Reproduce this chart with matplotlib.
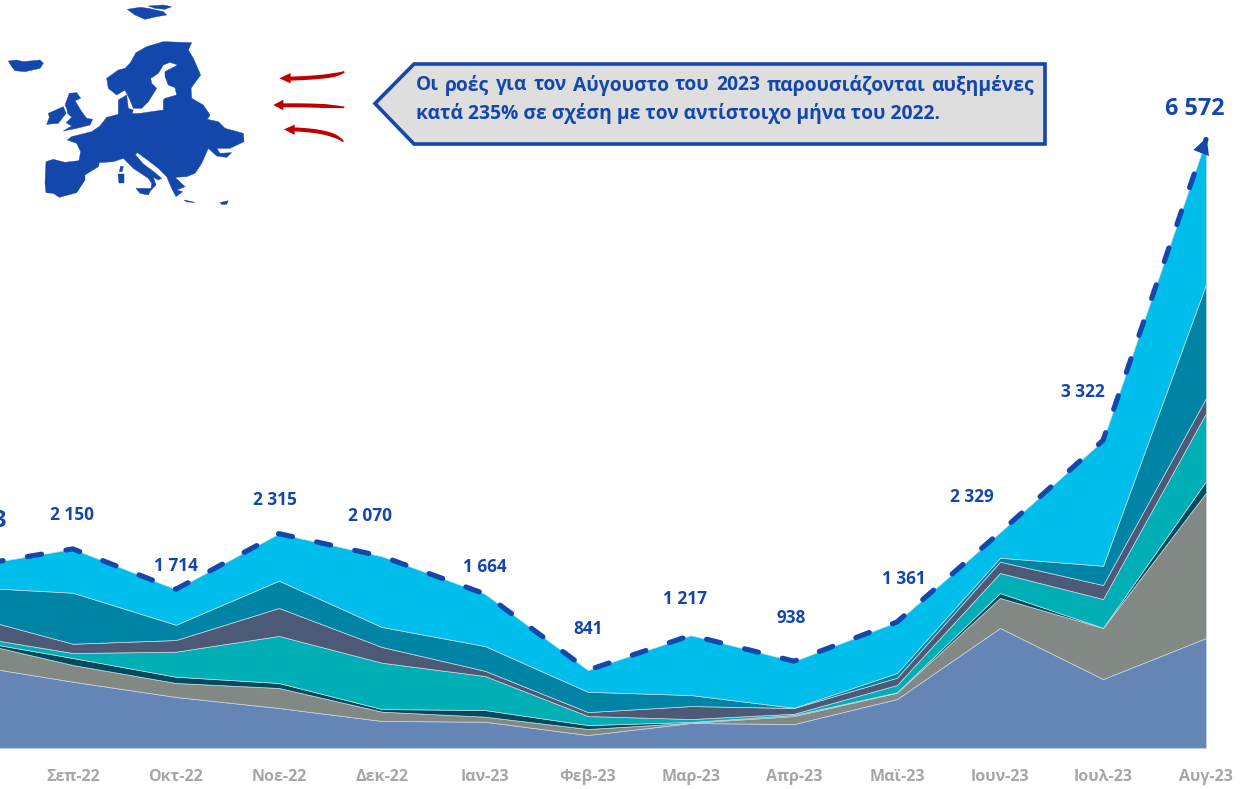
import matplotlib
matplotlib.use('Agg')
import matplotlib.pyplot as plt
import numpy as np
from matplotlib.patches import Polygon

plt.rcParams['font.family'] = ['Open Sans', 'DejaVu Sans']

months = ['Αυγ-22', 'Σεπ-22', 'Οκτ-22', 'Νοε-22', 'Δεκ-22', 'Ιαν-23', 'Φεβ-23',
          'Μαρ-23', 'Απρ-23', 'Μαϊ-23', 'Ιουν-23', 'Ιουλ-23', 'Αυγ-23']
totals = [1963, 2150, 1714, 2315, 2070, 1664, 841, 1217, 938, 1361, 2329, 3322, 6572]

# stacked layers, bottom to top
layer1 = [896, 716, 551, 432, 292, 284, 140, 270, 259, 529, 1296, 745, 1188]
layer2 = [259, 180, 151, 216, 100, 54, 65, 3, 86, 68, 324, 551, 1569]
layer3 = [11, 76, 68, 54, 29, 72, 43, 8, 11, 4, 54, 2, 126]
layer4 = [43, 54, 270, 508, 500, 367, 97, 32, 14, 79, 216, 311, 734]
layer5 = [216, 100, 126, 302, 170, 57, 43, 140, 62, 79, 122, 151, 162]
layer6 = [313, 551, 165, 295, 216, 267, 219, 119, 3, 51, 43, 208, 1231]
layer7 = [225, 473, 383, 508, 763, 563, 234, 645, 503, 551, 274, 1354, 1562]
layer_colors = ['#6585b7', '#828884', '#004c5c', '#00afb5', '#4c5a78', '#0084a6', '#00beeb']

# label offset from its point, pixels
label_dx = [7, -1, 0, -4, -12, 0, 0, -6, -3, 7, -28, -20, -11]
label_dy = [45, 34, 23, 34, 40, 27, 41, 36, 43, 43, 35, 48, 30]

BLUE = '#1447ab'
W, H = 1251, 789
BASE_Y = 748
PX_PER_UNIT = 0.0926
STEP = 103.02
X0 = -30.2

fig = plt.figure(figsize=(W / 100, H / 100), dpi=100)
ax = fig.add_axes([0, (H - BASE_Y) / H, 1, BASE_Y / H])
xs = list(range(len(months)))
ax.stackplot(xs, layer1, layer2, layer3, layer4, layer5, layer6, layer7,
             colors=layer_colors, edgecolor='#c9d6e2', linewidth=0.5)
for s in ax.spines.values():
    s.set_visible(False)
ax.set_yticks([])
ax.set_xticks(xs, months)
ax.tick_params(axis='x', length=0, pad=15, labelsize=11.5, labelcolor='#a6a6a6')
for t in ax.get_xticklabels():
    t.set_fontweight('bold')
ax.set_xlim(-X0 / STEP, (W - X0) / STEP)
ax.set_ylim(0, BASE_Y / PX_PER_UNIT)

ax.plot(xs, totals, color=BLUE, lw=3.7, linestyle=(2.0, (2.8, 4.8)),
        dash_capstyle='round', clip_on=False)

for i, v in enumerate(totals):
    txt = f'{v:,}'.replace(',', ' ')
    big = i == 0 or i == len(totals) - 1
    ax.annotate(txt, (i, v), xytext=(label_dx[i], label_dy[i]), textcoords='offset pixels',
                ha='center', va='center', color=BLUE, fontweight='bold',
                fontsize=16.8 if big else 12.4, annotation_clip=False)

# overlay in pixel coordinates for the map, arrows and the callout
ov = fig.add_axes([0, 0, 1, 1])
ov.set_xlim(0, W)
ov.set_ylim(H, 0)
ov.axis('off')
ov.patch.set_alpha(0)

# arrowhead on the end of the dashed line
ov.add_patch(Polygon([(1206.7, 137.7), (1193.3, 150), (1209, 156)], color=BLUE, lw=0))

# callout
ov.add_patch(Polygon([(375, 103.5), (414, 64), (1045, 64), (1045, 144), (414, 144)],
                     facecolor='#dedede', edgecolor=BLUE, lw=2.6, joinstyle='miter'))

line1 = 'Οι ροές για τον Αύγουστο του 2023 παρουσιάζονται αυξημένες'.split()
line2 = 'κατά 235% σε σχέση με τον αντίστοιχο μήνα του 2022.'
FS = 13.9
fig.canvas.draw()
rend = fig.canvas.get_renderer()
words = [ov.text(416, 85, w, fontsize=FS, fontweight='bold', color=BLUE, va='center', ha='left')
         for w in line1]
widths = [w.get_window_extent(rend).width for w in words]
gap = (1034 - 416 - sum(widths)) / (len(words) - 1)
x = 416
for w, wd in zip(words, widths):
    w.set_x(x)
    x += wd + gap
ov.text(416, 113, line2, fontsize=FS, fontweight='bold', color=BLUE, va='center', ha='left')

# red arrows (traced, 3x zoom coordinates): tail, control point, head base, then head triangle
RED = '#c00000'
arrows = [
    ((1033, 215), (1005, 232), (865, 236), [(838, 235), (872, 219), (872, 250)]),
    ((1033, 322), (950, 315), (845, 316), [(820, 315), (850, 299), (850, 331)]),
    ((1030, 425), (1000, 392), (875, 388), [(852, 388), (884, 374), (884, 405)]),
]
t = np.linspace(0, 1, 30)[:, None]
for p0, p1, p2, head in arrows:
    p0, p1, p2 = np.array(p0) / 3, np.array(p1) / 3, np.array(p2) / 3
    curve = (1 - t) ** 2 * p0 + 2 * t * (1 - t) * p1 + t ** 2 * p2
    tang = np.gradient(curve, axis=0)
    norm = np.c_[-tang[:, 1], tang[:, 0]] / np.linalg.norm(tang, axis=1, keepdims=True)
    half = 0.8 + 1.2 * np.minimum(t * 3, 1)
    ov.add_patch(Polygon(np.r_[curve + norm * half, (curve - norm * half)[::-1]], color=RED, lw=0))
    ov.add_patch(Polygon([(p[0] / 3, p[1] / 3) for p in head], color=RED, lw=0))

# Europe silhouette (traced, 3x zoom coordinates)
continent = [(202, 420), (215, 410), (255, 400), (275, 395), (300, 378), (320, 352), (355, 343),
             (420, 340), (490, 330), (490, 300), (495, 295), (530, 285), (525, 262), (573, 262),
             (575, 295), (610, 315), (630, 345), (622, 358), (655, 365), (675, 385), (730, 400),
             (732, 425), (690, 445), (650, 445), (660, 460), (695, 458), (680, 472), (650, 468),
             (625, 445), (605, 490), (585, 520), (560, 530), (525, 532), (555, 560), (530, 570),
             (548, 575), (528, 590), (515, 565), (500, 530), (475, 505), (440, 478), (412, 458),
             (406, 464), (430, 492), (465, 518), (485, 535), (475, 540), (460, 532), (468, 555),
             (452, 572), (455, 550), (445, 535), (400, 505), (370, 475), (340, 485), (298, 488),
             (295, 500), (255, 525), (255, 540), (230, 578), (178, 592), (160, 580), (138, 578),
             (135, 550), (138, 485), (160, 478), (195, 487), (237, 482), (242, 455), (230, 430)]
denmark = [(355, 300), (380, 285), (385, 325), (400, 330), (395, 345), (355, 345)]
scandinavia = [(320, 235), (355, 210), (375, 205), (390, 190), (408, 158), (440, 140), (490, 125),
               (575, 128), (565, 150), (580, 175), (602, 225), (580, 255), (573, 265), (530, 265),
               (505, 255), (495, 230), (495, 215), (533, 195), (510, 187), (490, 195), (475, 220),
               (452, 235), (455, 250), (470, 265), (445, 305), (425, 325), (400, 325), (390, 300),
               (375, 270), (350, 285), (325, 265)]
britain = [(195, 315), (208, 280), (230, 278), (242, 295), (225, 302), (245, 335), (260, 355),
           (278, 358), (270, 375), (230, 385), (190, 393), (215, 378), (198, 368), (215, 352),
           (203, 340), (200, 325)]
ireland = [(145, 340), (190, 320), (198, 340), (175, 370), (140, 373), (148, 352)]
iceland = [(25, 183), (50, 180), (70, 185), (120, 180), (130, 190), (120, 205), (75, 215),
           (45, 212), (35, 200)]
svalbard1 = [(382, 28), (420, 22), (445, 25), (490, 35), (500, 45), (470, 50), (435, 58), (405, 45)]
svalbard2 = [(445, 18), (490, 15), (515, 20), (495, 28), (465, 25)]
sardinia = [(355, 522), (372, 522), (372, 550), (358, 550)]
corsica = [(362, 498), (370, 500), (366, 515), (358, 515)]
sicily = [(408, 565), (430, 565), (455, 565), (445, 585), (420, 580)]
crete = [(552, 600), (585, 607), (560, 606)]
cyprus = [(660, 608), (685, 602), (680, 613), (665, 613)]
for shape in [continent, denmark, scandinavia, britain, ireland, iceland, svalbard1, svalbard2,
              sardinia, corsica, sicily, crete, cyprus]:
    ov.add_patch(Polygon([(p[0] / 3, p[1] / 3) for p in shape], color=BLUE, lw=0.3))

fig.savefig('out.png', dpi=100)
